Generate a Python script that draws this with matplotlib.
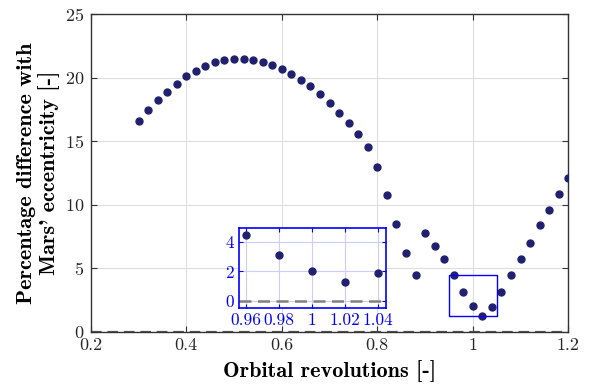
import matplotlib
matplotlib.use('Agg')
import matplotlib.pyplot as plt
from matplotlib.patches import Rectangle
from matplotlib.ticker import FuncFormatter

# Orbital revolutions and percentage difference with Mars' eccentricity
revolutions = [0.30, 0.32, 0.34, 0.36, 0.38, 0.40, 0.42, 0.44, 0.46, 0.48,
               0.50, 0.52, 0.54, 0.56, 0.58, 0.60, 0.62, 0.64, 0.66, 0.68,
               0.70, 0.72, 0.74, 0.76, 0.78, 0.80, 0.82, 0.84, 0.86, 0.88,
               0.90, 0.92, 0.94, 0.96, 0.98, 1.00, 1.02, 1.04, 1.06, 1.08,
               1.10, 1.12, 1.14, 1.16, 1.18, 1.20]
pct_diff = [16.60, 17.42, 18.23, 18.86, 19.48, 20.12, 20.53, 20.93, 21.22, 21.38,
            21.48, 21.48, 21.37, 21.20, 21.00, 20.64, 20.30, 19.82, 19.31, 18.68,
            17.97, 17.24, 16.39, 15.53, 14.53, 12.98, 10.73, 8.50, 6.21, 4.44,
            7.77, 6.77, 5.69, 4.44, 3.10, 2.02, 1.25, 1.92, 3.10, 4.44,
            5.69, 6.95, 8.39, 9.57, 10.83, 12.12]

zoom_x = (0.95, 1.05)
main_xticks = [0.2, 0.4, 0.6, 0.8, 1.0, 1.2]
main_yticks = [0, 5, 10, 15, 20, 25]
inset_xticks = [0.96, 0.98, 1.00, 1.02, 1.04]
inset_yticks = [0, 2, 4]

plt.rcParams['font.family'] = 'cmr10'
plt.rcParams['axes.formatter.use_mathtext'] = True
plt.rcParams['mathtext.fontset'] = 'cm'

marker_color = '#20206e'
fmt = FuncFormatter(lambda v, p: '%g' % round(v, 4))

fig = plt.figure(figsize=(5.97, 3.89), dpi=100)
ax = fig.add_axes([0.152, 0.147, 0.800, 0.817])

ax.plot(revolutions, pct_diff, 'o', color=marker_color, markersize=5, zorder=3)
ax.axhline(0, color='#555555', linestyle=(0, (4.8, 2.6)), linewidth=1.6, zorder=2)

# box marking the zoomed region
sel = [y for x, y in zip(revolutions, pct_diff) if zoom_x[0] <= x <= zoom_x[1]]
ax.add_patch(Rectangle((zoom_x[0], min(sel)), zoom_x[1] - zoom_x[0],
                       max(sel) - min(sel), fill=False, edgecolor='blue',
                       linewidth=1, zorder=4))

ax.set_xlim(0.2, 1.2)
ax.set_ylim(0, 25)
ax.set_xticks(main_xticks)
ax.set_yticks(main_yticks)
ax.xaxis.set_major_formatter(fmt)
ax.grid(True, color='#dddddd', linewidth=0.8)
ax.set_axisbelow(True)
ax.tick_params(direction='in', top=True, right=True, length=4,
               labelsize=13, color='#333333', labelcolor='#262626', pad=4.5)
for s in ax.spines.values():
    s.set_color('#333333')
    s.set_linewidth(1)

ax.set_xlabel('Orbital revolutions [-]', family='cmb10', fontsize=16,
              labelpad=5)
ax.set_ylabel("Percentage difference with\nMars' eccentricity [-]",
              family='cmb10', fontsize=16, linespacing=1.1, labelpad=4)

# inset
ins = fig.add_axes([0.4003, 0.2075, 0.2467, 0.2057])
ins.plot(revolutions, pct_diff, 'o', color=marker_color, markersize=5, zorder=3)
ins.axhline(0, color='#808080', linestyle=(0, (4.8, 2.6)), linewidth=1.8, zorder=2)
ins.set_xlim(0.956, 1.045)
ins.set_ylim(-0.5, 4.93)
ins.set_xticks(inset_xticks)
ins.set_yticks(inset_yticks)
ins.xaxis.set_major_formatter(fmt)
ins.grid(True, color='#ccccff', linewidth=0.8)
ins.set_axisbelow(True)
ins.tick_params(direction='in', top=True, right=True, length=3,
                labelsize=12.5, colors='blue', pad=3)
for s in ins.spines.values():
    s.set_color('blue')
    s.set_linewidth(1.2)

fig.savefig('out.png', dpi=100)
plt.close(fig)
